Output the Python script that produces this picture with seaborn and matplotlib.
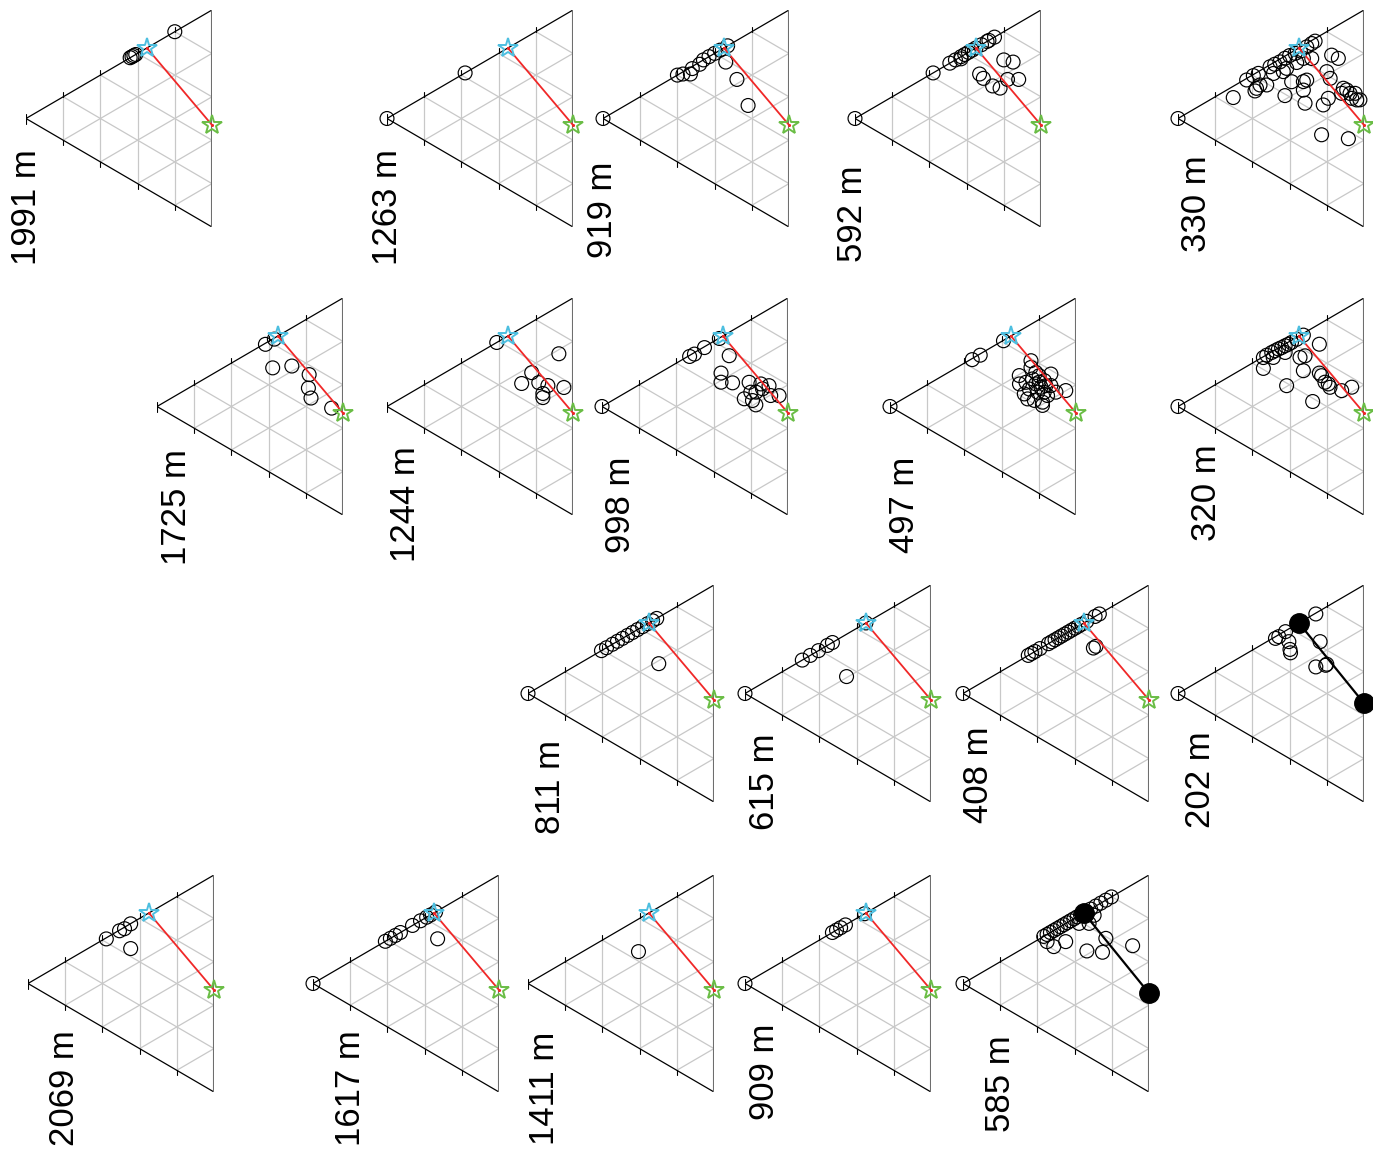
import numpy as np
import pandas as pd
import matplotlib
matplotlib.use('Agg')
import matplotlib.pyplot as plt
import seaborn as sns

sns.set_theme(style='white')
plt.rcParams['font.family'] = ['Liberation Sans', 'DejaVu Sans']

# depth of each panel (m)
depths = ['1991', '1263', '919', '592', '330',
          '1725', '1244', '998', '497', '320',
          '811', '615', '408', '202',
          '2069', '1617', '1411', '909', '585']

# ternary compositions of the samples: b -> top vertex, c -> bottom-right vertex
b_1991 = [0.56, 0.57, 0.58, 0.59, 0.80]
c_1991 = [0, 0, 0, 0, 0]
b_1263 = [0, 0.42]
c_1263 = [0, 0]
b_919 = [0, 0.40, 0.42, 0.44, 0.47, 0.51, 0.54, 0.57, 0.60, 0.63, 0.67, 0.59, 0.54, 0.45]
c_919 = [0, 0, 0.01, 0.03, 0.01, 0.01, 0, 0, 0, 0, 0, 0.07, 0.18, 0.33]
b_592 = [0, 0.42, 0.51, 0.54, 0.56, 0.57, 0.59, 0.61, 0.63, 0.65, 0.68, 0.71, 0.72, 0.75,
         0.67, 0.685, 0.54, 0.53, 0.52, 0.53, 0.59, 0.62]
c_592 = [0, 0, 0, 0, 0.01, 0, 0, 0, 0, 0, 0, 0, 0, 0,
         0.13, 0.165, 0.13, 0.16, 0.22, 0.25, 0.23, 0.26]
b_330 = [0, 0.362, 0.40, 0.424, 0.486, 0.51, 0.535, 0.565, 0.59, 0.615, 0.64, 0.676, 0.705, 0.725,
         0.245, 0.334, 0.35, 0.375, 0.393, 0.464, 0.499, 0.523, 0.475, 0.393, 0.577, 0.614, 0.636,
         0.507, 0.523, 0.468, 0.412, 0.616, 0.594, 0.497, 0.453, 0.705, 0.708, 0.584, 0.585, 0.578,
         0.592, 0.56, 0.566, 0.575, 0.556, 0.311, 0.365]
c_330 = [0, 0.007, 0.005, 0.008, 0.009, 0.01, 0.013, 0.01, 0.01, 0.015, 0.018, 0.016, 0.014, 0.012,
         0.052, 0.08, 0.072, 0.066, 0.084, 0.049, 0.067, 0.061, 0.136, 0.182, 0.061, 0.06, 0.083,
         0.167, 0.169, 0.206, 0.271, 0.184, 0.224, 0.311, 0.328, 0.121, 0.154, 0.305, 0.322, 0.347,
         0.36, 0.374, 0.395, 0.403, 0.324, 0.461, 0.551]
b_1725 = [0.578, 0.626, 0.489, 0.549, 0.556, 0.492, 0.453, 0.462]
c_1725 = [0.005, 0.005, 0.133, 0.176, 0.262, 0.322, 0.375, 0.477]
b_1244 = [0.59, 0.705, 0.545, 0.468, 0.518, 0.529, 0.479, 0.46, 0.563]
c_1244 = [0, 0.219, 0.233, 0.256, 0.298, 0.336, 0.359, 0.378, 0.388]
b_998 = [0, 0.466, 0.49, 0.547, 0.629, 0.576, 0.474, 0.432, 0.46, 0.507, 0.418, 0.466, 0.432,
         0.421, 0.531, 0.513, 0.545, 0.504, 0.526, 0.48]
c_998 = [0, 0.005, 0.007, 0.004, 0.002, 0.108, 0.166, 0.208, 0.242, 0.284, 0.347, 0.334, 0.377,
         0.406, 0.323, 0.35, 0.353, 0.403, 0.426, 0.348]
b_497 = [0, 0.437, 0.479, 0.608, 0.59, 0.559, 0.49, 0.452, 0.477, 0.455, 0.51, 0.496, 0.513, 0.495,
         0.463, 0.48, 0.515, 0.582, 0.529, 0.512, 0.546, 0.405, 0.416, 0.43, 0.415, 0.474, 0.419,
         0.543, 0.534, 0.549]
c_497 = [0, 0.005, 0.006, 0.002, 0.168, 0.199, 0.205, 0.244, 0.254, 0.294, 0.256, 0.288, 0.289, 0.317,
         0.331, 0.349, 0.323, 0.283, 0.336, 0.38, 0.399, 0.335, 0.36, 0.39, 0.405, 0.373, 0.303,
         0.259, 0.296, 0.235]
b_320 = [0, 0.455, 0.475, 0.501, 0.518, 0.535, 0.55, 0.568, 0.584, 0.60, 0.629, 0.666,
         0.405, 0.482, 0.537, 0.388, 0.554, 0.575, 0.502, 0.385, 0.667, 0.534, 0.528, 0.507,
         0.508, 0.497, 0.513, 0.556]
c_320 = [0, 0.004, 0.002, 0.003, 0.004, 0.005, 0.007, 0.008, 0.01, 0.01, 0.009, 0.008,
         0.054, 0.03, 0.039, 0.196, 0.102, 0.108, 0.172, 0.339, 0.093, 0.226, 0.244, 0.283,
         0.30, 0.32, 0.367, 0.378]
b_811 = [0, 0.395, 0.422, 0.454, 0.481, 0.508, 0.535, 0.562, 0.589, 0.616, 0.643, 0.67, 0.692, 0.489]
c_811 = [0, 0, 0, 0, 0, 0, 0, 0, 0, 0, 0, 0, 0, 0.214]
b_615 = [0, 0.308, 0.351, 0.395, 0.443, 0.47, 0.65, 0.351]
c_615 = [0, 0, 0, 0, 0, 0, 0, 0.195]
b_408 = [0, 0.351, 0.369, 0.387, 0.414, 0.459, 0.477, 0.495, 0.513, 0.53, 0.548, 0.566, 0.584,
         0.602, 0.62, 0.638, 0.665, 0.71, 0.733, 0.56, 0.575]
c_408 = [0, 0, 0, 0, 0, 0, 0, 0, 0, 0, 0, 0, 0,
         0, 0, 0, 0, 0, 0, 0.141, 0.14]
b_202 = [0, 0.737, 0.516, 0.533, 0.574, 0.537, 0.504, 0.49, 0.621, 0.493, 0.527, 0.535]
c_202 = [0, 0.004, 0.008, 0.009, 0.004, 0.059, 0.098, 0.115, 0.143, 0.248, 0.267, 0.265]
b_2069 = [0.416, 0.489, 0.512, 0.551, 0.437]
c_2069 = [0.005, 0.003, 0.007, 0.001, 0.115]
b_1617 = [0, 0.389, 0.416, 0.443, 0.47, 0.535, 0.578, 0.611, 0.632, 0.659, 0.541]
c_1617 = [0, 0, 0, 0, 0, 0, 0, 0, 0, 0, 0.129]
b_1411 = [0.444]
c_1411 = [0.15]
b_909 = [0, 0.47, 0.492, 0.514, 0.54, 0.643]
c_909 = [0, 0, 0, 0, 0, 0]
b_585 = [0, 0.434, 0.452, 0.47, 0.488, 0.506, 0.524, 0.542, 0.56, 0.578, 0.596, 0.614, 0.632,
         0.686, 0.714, 0.741, 0.768, 0.798,
         0.419, 0.414, 0.469, 0.589, 0.616, 0.667, 0.592, 0.483, 0.519, 0.63]
c_585 = [0, 0, 0, 0, 0, 0, 0, 0, 0, 0, 0, 0, 0,
         0, 0, 0, 0, 0,
         0.033, 0.074, 0.083, 0.035, 0.062, 0.038, 0.176, 0.183, 0.231, 0.282]

samples = {
    '1991': (b_1991, c_1991), '1263': (b_1263, c_1263), '919': (b_919, c_919),
    '592': (b_592, c_592), '330': (b_330, c_330), '1725': (b_1725, c_1725),
    '1244': (b_1244, c_1244), '998': (b_998, c_998), '497': (b_497, c_497),
    '320': (b_320, c_320), '811': (b_811, c_811), '615': (b_615, c_615),
    '408': (b_408, c_408), '202': (b_202, c_202), '2069': (b_2069, c_2069),
    '1617': (b_1617, c_1617), '1411': (b_1411, c_1411), '909': (b_909, c_909),
    '585': (b_585, c_585),
}

# end-members (b, c)
end_top = (0.65, 0.0)
end_right = (0.47, 0.53)
end_top_fit = (0.65, 0.0)
end_right_fit = (0.455, 0.545)
filled_panels = ['202', '585']

# panel layout in pixels: left vertex x, top vertex y, label centre
panel_left = [26, 387, 603, 855, 1178,
              157, 387, 602, 890, 1178,
              528, 745, 963, 1178,
              28, 313, 528, 745, 963]
panel_top = [10] * 5 + [298] * 5 + [585] * 4 + [875] * 5
label_x = [27, 388, 602, 852, 1197, 176, 405, 620, 905, 1206,
           550, 765, 979, 1201, 64, 350, 544, 765, 1001]
label_y = [207, 207, 210, 214, 204, 507, 504, 505, 505, 493,
           787, 782, 775, 780, 1088, 1088, 1088, 1072, 1084]

FW, FH = 1373, 1162
TW, TH = 186, 217


def to_xy(b, c):
    b = np.asarray(b, float)
    c = np.asarray(c, float)
    return b + c, (b - c) / 2


def draw_frame(ax):
    grid = '#c8c8c8'
    for k in range(1, 5):
        f = k / 5
        ax.plot([f, f], [-f / 2, f / 2], color=grid, lw=0.9, zorder=1)
        ax.plot([f, 1], [-f / 2, (1 - 2 * f) / 2], color=grid, lw=0.9, zorder=1)
        ax.plot([f, 1], [f / 2, (2 * f - 1) / 2], color=grid, lw=0.9, zorder=1)
    ax.plot([0, 1], [0, 0.5], color='black', lw=0.9, zorder=2)
    ax.plot([0, 1], [0, -0.5], color='black', lw=0.9, zorder=2)
    ax.plot([1, 1], [-0.5, 0.5], color='#6e6e6e', lw=1.5, zorder=2)
    tl_y = 5 / TH
    tl_x = 5 / TW
    for k in range(6):
        f = k / 5
        ax.plot([f, f], [f / 2, f / 2 + tl_y], color='black', lw=0.8, zorder=2)
        ax.plot([f, f], [-f / 2, -f / 2 - tl_y], color='black', lw=0.8, zorder=2)
        ax.plot([1, 1 + tl_x], [0.5 - f, 0.5 - f], color='black', lw=0.8, zorder=2)


fig = plt.figure(figsize=(FW / 100, FH / 100), dpi=100)

for i, d in enumerate(depths):
    left = panel_left[i]
    bottom = panel_top[i] + TH
    ax = fig.add_axes([left / FW, 1 - bottom / FH, TW / FW, TH / FH])
    ax.set_xlim(0, 1)
    ax.set_ylim(-0.5, 0.5)
    ax.axis('off')
    draw_frame(ax)

    b, c = samples[d]
    x, y = to_xy(b, c)
    df = pd.DataFrame({'x': x, 'y': y})
    sns.scatterplot(data=df, x='x', y='y', ax=ax, s=100, marker='o',
                    facecolors='none', edgecolor='black', linewidth=0.85,
                    zorder=4, clip_on=False, legend=False)

    if d in filled_panels:
        ex, ey = to_xy([end_top_fit[0], end_right_fit[0]], [end_top_fit[1], end_right_fit[1]])
        ax.plot(ex, ey, color='black', lw=1.6, zorder=5, clip_on=False)
        ax.plot(ex, ey, 'o', color='black', ms=14, zorder=6, clip_on=False)
    else:
        ex, ey = to_xy([end_top[0], end_right[0]], [end_top[1], end_right[1]])
        ax.plot(ex, ey, color='#f02828', lw=1.3, zorder=5, clip_on=False)
        ax.plot(ex[0], ey[0], '*', ms=15, mfc='none', mec='#4dbfe0', mew=1.4,
                zorder=6, clip_on=False)
        ax.plot(ex[1], ey[1], '*', ms=15, mfc='none', mec='#6abd45', mew=1.4,
                zorder=6, clip_on=False)
        ax.plot(ex, ey, '.', color='#f02828', ms=2.5, zorder=7, clip_on=False)
    ax.set_xlabel('')
    ax.set_ylabel('')

    fig.text(label_x[i] / FW, 1 - label_y[i] / FH, f'{d} m', rotation=90,
             ha='center', va='center', fontsize=25, color='black')

fig.savefig('out.png', dpi=100, facecolor='white')
plt.close(fig)
